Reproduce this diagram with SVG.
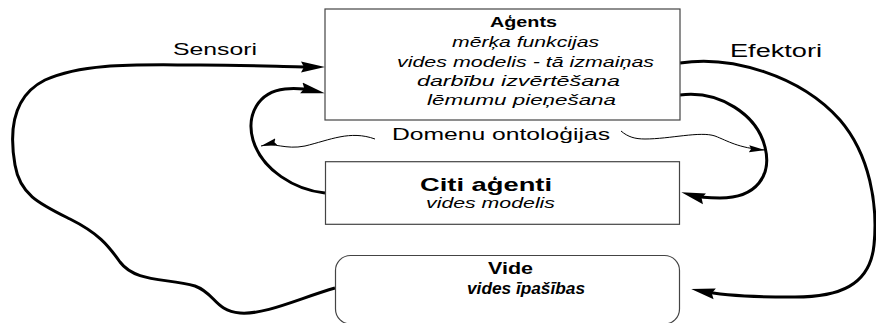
<svg xmlns="http://www.w3.org/2000/svg" width="876" height="323" viewBox="0 0 876 323">
<defs>
<style>
.box{fill:#fff;stroke:#444;stroke-width:1.2}
.t{font-family:"Liberation Sans",Arial,sans-serif;fill:#000}
.b{font-weight:bold}
.i{font-style:italic}
.thick{fill:none;stroke:#000;stroke-width:3;stroke-linecap:butt}
.thin{fill:none;stroke:#000;stroke-width:1}
</style>
<marker id="ah" markerUnits="userSpaceOnUse" viewBox="0 0 24 12" markerWidth="24" markerHeight="12" refX="14" refY="6" orient="auto">
<path d="M0,0.5 L24,6 L0,11.5 L3,6 z" fill="#000"/>
</marker>
<marker id="ahs" markerUnits="userSpaceOnUse" viewBox="0 0 16 8" markerWidth="16" markerHeight="8" refX="16" refY="4" orient="auto">
<path d="M0,0.5 L16,4 L0,7.5 L2,4 z" fill="#000"/>
</marker>
</defs>
<rect width="876" height="323" fill="#fff"/>

<g id="connectors">
<path class="thick" marker-end="url(#ah)" d="M335,288 C300,298 265,315 240,313 S215,293 195,286 C165,278 135,282 120,262 C108,245 98,233 70,219 C40,204 20,195 15,165 C8,125 15,95 45,80 C85,62 140,65 200,65 C250,65 290,67 315,67"/>
<path class="thick" marker-end="url(#ah)" d="M680,63 C730,55 800,75 840,120 C870,155 878,205 874,245 C870,285 840,298 790,297 C755,297 725,296 701,291"/>
<path class="thick" marker-end="url(#ah)" d="M680,95 C720,90 757,115 765,147 C772,175 757,198 720,198 C705,198 698,197 691,195"/>
<path class="thick" marker-end="url(#ah)" d="M325,193 C295,190 262,170 253,140 C246,115 258,92 285,89 C295,88 306,89 315,91"/>
<path class="thin" marker-end="url(#ahs)" d="M375,139 C350,130 330,140 305,146 C285,150 275,142 261,146"/>
<path class="thin" marker-end="url(#ahs)" d="M621,131 C628,137 635,139 645,139 C670,139 700,131 715,136 C728,141 738,148 765,150"/>
<text class="t" x="173" y="55" font-size="17" textLength="84" lengthAdjust="spacingAndGlyphs">Sensori</text>
<text class="t" x="730" y="57" font-size="17.5" textLength="92" lengthAdjust="spacingAndGlyphs">Efektori</text>
<text class="t" x="392" y="140" font-size="17" textLength="218" lengthAdjust="spacingAndGlyphs">Domenu ontoloģijas</text>
</g>

<g id="agents">
<rect class="box" x="325" y="9" width="355" height="111"/>
<text class="t b" x="490" y="27" font-size="15" textLength="67" lengthAdjust="spacingAndGlyphs">Aģents</text>
<text class="t i" x="452" y="47" font-size="15.5" textLength="147" lengthAdjust="spacingAndGlyphs">mērķa funkcijas</text>
<text class="t i" x="397" y="66.5" font-size="15.5" textLength="257" lengthAdjust="spacingAndGlyphs">vides modelis - tā izmaiņas</text>
<text class="t i" x="417" y="86" font-size="15.5" textLength="203" lengthAdjust="spacingAndGlyphs">darbību izvērtēšana</text>
<text class="t i" x="427" y="105" font-size="15.5" textLength="189" lengthAdjust="spacingAndGlyphs">lēmumu pieņešana</text>
</g>

<g id="citi-agenti">
<rect class="box" x="325.5" y="161.7" width="354" height="62.6"/>
<text class="t b" x="420" y="191" font-size="18.5" textLength="132" lengthAdjust="spacingAndGlyphs">Citi aģenti</text>
<text class="t i" x="426" y="208" font-size="15" textLength="129" lengthAdjust="spacingAndGlyphs">vides modelis</text>
</g>

<g id="vide">
<rect class="box" x="335.5" y="255.5" width="344" height="68.5" rx="15" ry="15"/>
<text class="t b" x="488" y="274" font-size="16" textLength="45" lengthAdjust="spacingAndGlyphs">Vide</text>
<text class="t b i" x="467" y="294" font-size="16" textLength="118" lengthAdjust="spacingAndGlyphs">vides īpašības</text>
</g>
</svg>
